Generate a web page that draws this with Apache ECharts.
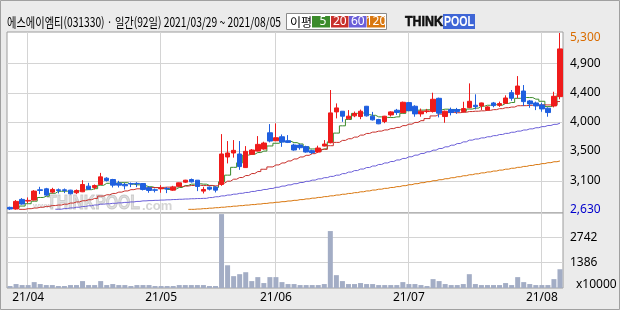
<!DOCTYPE html>
<html><head><meta charset="utf-8">
<script src="https://cdn.jsdelivr.net/npm/echarts@6/dist/echarts.min.js"></script>
<style>html,body{margin:0;padding:0;background:#ebebeb}#c{width:620px;height:310px}</style>
</head><body><div id="c"></div>
<script>
const dates = ['2021/03/29','2021/03/30','2021/03/31',
'2021/04/01','2021/04/02','2021/04/05','2021/04/06','2021/04/07','2021/04/08','2021/04/09','2021/04/12','2021/04/13','2021/04/14','2021/04/15','2021/04/16','2021/04/19','2021/04/20','2021/04/21','2021/04/22','2021/04/23','2021/04/26','2021/04/27','2021/04/28','2021/04/29','2021/04/30',
'2021/05/03','2021/05/04','2021/05/06','2021/05/07','2021/05/10','2021/05/11','2021/05/12','2021/05/13','2021/05/14','2021/05/17','2021/05/18','2021/05/20','2021/05/21','2021/05/24','2021/05/25','2021/05/26','2021/05/27','2021/05/28','2021/05/31',
'2021/06/01','2021/06/02','2021/06/03','2021/06/04','2021/06/07','2021/06/08','2021/06/09','2021/06/10','2021/06/11','2021/06/14','2021/06/15','2021/06/16','2021/06/17','2021/06/18','2021/06/21','2021/06/22','2021/06/23','2021/06/24','2021/06/25','2021/06/28','2021/06/29','2021/06/30',
'2021/07/01','2021/07/02','2021/07/05','2021/07/06','2021/07/07','2021/07/08','2021/07/09','2021/07/12','2021/07/13','2021/07/14','2021/07/15','2021/07/16','2021/07/19','2021/07/20','2021/07/21','2021/07/22','2021/07/23','2021/07/26','2021/07/27','2021/07/28','2021/07/29','2021/07/30',
'2021/08/02','2021/08/03','2021/08/04','2021/08/05'];

const opens = [2670,2645,2790,2765,2780,2935,2950,2900,2935,2935,2930,2890,2905,2990,2970,3015,3110,3090,3035,3015,
3030,3032,3030,2965,2935,2950,2955,2930,2990,3050,3090,3080,2915,2975,2975,3015,3430,3490,3475,3270,
3470,3520,3550,3795,3675,3735,3675,3610,3610,3585,3525,3505,3595,3645,4110,4120,4005,4050,4040,4195,
4045,3995,3965,4065,4135,4100,4250,4195,4080,4115,4115,4315,4040,4145,4145,4115,4175,4210,4200,4140,
4245,4210,4240,4400,4375,4425,4275,4245,4215,4165,4200,4340];
const closes = [2645,2760,2720,2775,2915,2925,2855,2940,2925,2925,2875,2925,3015,2945,3000,3130,3075,3005,3005,2995,
3022,3025,2940,2925,2928,2958,2948,2975,3040,3080,3055,2985,2940,2945,2930,3475,3490,3530,3285,3515,
3535,3620,3640,3670,3720,3655,3650,3535,3570,3505,3495,3565,3625,4095,4170,4045,4045,4085,4120,4050,
3990,3930,4045,4110,4100,4255,4130,4080,4120,4125,4300,4090,4120,4100,4115,4160,4270,4190,4245,4185,
4205,4235,4320,4315,4500,4265,4230,4200,4155,4100,4345,5060];
const lows = [2630,2635,2710,2733,2775,2870,2843,2880,2880,2885,2865,2870,2900,2935,2940,3010,3060,2970,2970,2940,
2975,2975,2925,2890,2895,2890,2885,2920,2985,3040,3045,2915,2880,2925,2895,2995,3333,3420,3236,3266,
3465,3515,3540,3650,3670,3583,3640,3525,3540,3495,3475,3495,3590,3635,4012,3960,4000,4030,4000,4040,
3980,3925,3940,4040,4065,4090,4120,4037,4037,4090,4100,4027,3946,4057,4080,4100,4165,4148,4137,4130,
4180,4185,4235,4278,4314,4198,4172,4137,4112,4037,4178,4300];
const highs = [2680,2780,2810,2820,2930,2980,2964,2965,2955,2955,2935,2940,3080,3040,3015,3190,3125,3100,3070,3040,
3045,3050,3035,2985,2955,3005,2975,2995,3045,3085,3105,3080,2980,2985,2990,3775,3670,3685,3670,3594,
3550,3745,3660,3926,3937,3770,3760,3630,3625,3600,3540,3600,3685,4440,4238,4122,4137,4115,4145,4200,
4110,4005,4050,4120,4155,4265,4260,4210,4160,4155,4399,4325,4130,4175,4170,4263,4540,4375,4250,4195,
4260,4265,4360,4440,4650,4515,4290,4265,4248,4180,4414,5300];
// volume, unit x10000 shares
const volumes = [107,214,160,160,320,214,160,160,107,107,160,160,375,160,160,375,160,214,160,160,
107,160,160,160,107,107,107,107,160,160,160,160,160,107,107,4010,1233,643,750,857,
375,590,268,590,590,320,214,214,160,160,160,160,214,3090,697,375,214,214,268,214,
214,160,160,160,160,320,214,214,160,107,482,375,214,160,160,214,750,214,160,160,
160,160,268,160,590,320,214,160,160,160,482,1018];

const ma5 = [null,2655,2690,2725,2763,2819,2838,2882,2912,2914,2904,2918,2933,2937,2952,3003,3033,3031,3043,3042,
3020,3010,2997,2981,2968,2955,2940,2947,2970,3000,3020,3027,3020,3001,2971,3055,3156,3274,3342,3459,
3471,3497,3519,3596,3637,3661,3667,3646,3626,3583,3551,3534,3552,3657,3790,3900,3996,4088,4093,4069,
4058,4035,4027,4025,4035,4088,4128,4135,4137,4142,4151,4143,4151,4147,4145,4117,4153,4167,4196,4210,
4219,4212,4238,4252,4315,4327,4326,4302,4270,4190,4206,4372];
const ma20 = [null,null,2640,2650,2660,2672,2685,2697,2705,2718,2735,2752,2770,2785,2805,2840,2860,2880,2900,2918,
2937,2950,2961,2968,2969,2971,2975,2977,2983,2991,3000,3003,2999,2999,2995,3035,3065,3095,3120,3150,
3180,3210,3245,3280,3310,3340,3370,3400,3430,3455,3480,3510,3545,3600,3650,3680,3705,3730,3760,3785,
3805,3820,3838,3858,3876,3903,3925,3951,3978,4009,4049,4076,4100,4101,4098,4104,4115,4120,4126,4133,
4144,4159,4173,4183,4203,4204,4209,4215,4216,4215,4217,4266];
const ma60 = [null,null,null,null,null,null,null,null,2642,2652,2662,2672,2683,2694,2706,2718,2724,2731,2738,2745,
2752,2760,2768,2772,2776,2780,2784,2788,2792,2796,2800,2803,2806,2818,2830,2843,2856,2869,2882,2895,
2910,2925,2940,2955,2973,2991,3009,3027,3045,3063,3081,3100,3118,3137,3156,3179,3202,3225,3248,3271,
3294,3317,3340,3362,3385,3408,3433,3458,3483,3508,3533,3558,3583,3608,3633,3658,3684,3701,3718,3735,
3752,3769,3786,3803,3820,3837,3854,3871,3888,3905,3922,3940];
const ma120 = [null,null,null,null,null,null,null,null,null,null,null,null,null,null,null,null,null,null,null,null,
null,null,null,null,null,null,null,null,null,null,2640,2645,2651,2658,2665,2672,2680,2688,2696,2704,
2712,2720,2729,2738,2747,2756,2766,2776,2787,2798,2809,2820,2832,2844,2856,2868,2880,2892,2905,2918,
2931,2944,2957,2970,2983,2997,3012,3027,3042,3057,3072,3087,3102,3117,3132,3147,3162,3176,3190,3204,
3218,3232,3246,3260,3274,3288,3302,3316,3330,3344,3358,3370];

const monthStarts = ['2021/04/01','2021/05/03','2021/06/01','2021/07/01','2021/08/02'];
const monthLabels = ['21/04','21/05','21/06','21/07','21/08'];
const priceGridValues = [3073,3525,3962,4400,4843];
const priceLabelValues = [2635,3073,3525,3962,4400,4843,5229];
const priceLabelTexts = ['2,630','3,100','3,500','4,000','4,400','4,900','5,300'];
const volGridValues = [1386,2742];
const volLabelTexts = ['1386','2742'];

const titleText = '에스에이엠티(031330) · 일간(92일) 2021/03/29 ~ 2021/08/05';
const maNames = ['5','20','60','120'];
const maColors = ['#3b8b2b','#c8302b','#6b5fd8','#d9770f'];

const UP = '#ef1b1b', DOWN = '#1f5fdf';
const GRID = '#d4d4d4';

function fitScale(text, font, target){
  const ctx = document.createElement('canvas').getContext('2d');
  ctx.font = font;
  return target / ctx.measureText(text).width;
}

const candleData = dates.map((d,i)=>[opens[i],closes[i],lows[i],highs[i]]);
const chart = echarts.init(document.getElementById('c'), null, {renderer:'canvas', width:620, height:310});

const titleFont = '13px "Noto Sans CJK KR"';
const logoFont = 'bold 15px "Liberation Sans"';
const wmFont = 'bold 21px "Liberation Sans"';

const legendChildren = [
  {type:'rect', shape:{x:286.5,y:13.5,width:100,height:16}, style:{fill:'#fff', stroke:'#8a8a8a', lineWidth:1}},
  {type:'text', x:290, y:22, style:{text:'이평', font:'12px "Noto Sans CJK KR"', fill:'#000', verticalAlign:'middle'}}
];
const boxX = [312,331,349,367], boxW = [18,17.5,17.5,18];
maNames.forEach((n,k)=>{
  legendChildren.push({type:'rect', shape:{x:boxX[k], y:16, width:boxW[k], height:11.5}, style:{fill:maColors[k]}});
  legendChildren.push({type:'text', x:boxX[k]+boxW[k]/2 + (k===0?2:0), y:22, style:{text:n, font:'12px "Noto Sans"', fill:'#fff', align:'center', verticalAlign:'middle'}});
});

// gridline renderers (custom series, drawn through the axes' scales)
function hLine(params, api){
  const cs = params.coordSys;
  const y = Math.round(api.coord([0, api.value(1)])[1]) + 0.5;
  return {type:'line', shape:{x1:cs.x, y1:y, x2:cs.x+cs.width, y2:y}, style:{stroke:GRID, lineWidth:1}};
}
function vLine(params, api){
  const cs = params.coordSys;
  const x = Math.round(api.coord([api.value(0), 0])[0]) - 0.5;
  return {type:'line', shape:{x1:x, y1:cs.y, x2:x, y2:cs.y+cs.height}, style:{stroke:GRID, lineWidth:1}};
}

const option = {
  backgroundColor:'#ebebeb',
  animation:false,
  grid:[
    {left:7, width:556, top:32, height:181, show:true, backgroundColor:'#fff', borderColor:'#9c9c9c', borderWidth:1},
    {left:7, width:556, top:213, height:75, show:true, backgroundColor:'#fff', borderColor:'#9c9c9c', borderWidth:1}
  ],
  xAxis:[
    {type:'category', gridIndex:0, data:dates, boundaryGap:true, axisLine:{show:false}, axisTick:{show:false}, axisLabel:{show:false}, splitLine:{show:false}},
    {type:'category', gridIndex:1, data:dates, boundaryGap:true, axisLine:{show:false}, axisTick:{show:false}, splitLine:{show:false},
      axisLabel:{interval:(i,v)=>monthStarts.includes(v), formatter:v=>{const k=monthStarts.indexOf(v); return k>=0?monthLabels[k]:'';}, color:'#000', fontSize:12, fontFamily:'Noto Sans', margin:4}}
  ],
  yAxis:[
    {type:'value', gridIndex:0, position:'right', min:2585, max:5315, splitLine:{show:false}, axisLine:{show:false}, axisTick:{show:false},
      axisLabel:{customValues:priceLabelValues, margin:7, fontSize:12, fontFamily:'Noto Sans',
        formatter:v=>{const k=priceLabelValues.indexOf(v); return k>=0?priceLabelTexts[k]:'';},
        color:(v)=>{const k=priceLabelValues.indexOf(Number(v)); return k===0?'#0000cc':(k===priceLabelValues.length-1?'#d96c00':'#000');}}},
    {type:'value', gridIndex:1, position:'right', min:0, max:4070, splitLine:{show:false}, axisLine:{show:false}, axisTick:{show:false},
      axisLabel:{customValues:volGridValues, margin:7, fontSize:12, fontFamily:'Noto Sans', color:'#000',
        formatter:v=>{const k=volGridValues.indexOf(v); return k>=0?volLabelTexts[k]:'';}}}
  ],
  graphic:[
    {type:'rect', z:-10, silent:true, shape:{x:0.5,y:0.5,width:619,height:309}, style:{fill:'none', stroke:'#a0a0a0', lineWidth:1}},
    {type:'text', x:7, y:22, scaleX:fitScale(titleText,titleFont,274), style:{text:titleText, font:titleFont, fill:'#000', verticalAlign:'middle'}},
    {type:'group', children:legendChildren},
    {type:'text', x:405, y:22, scaleX:fitScale('THINK',logoFont,38), style:{text:'THINK', font:logoFont, fill:'#111', stroke:'#111', lineWidth:0.6, verticalAlign:'middle'}},
    {type:'rect', shape:{x:443,y:14,width:32,height:15}, style:{fill:'#3f66d6'}},
    {type:'text', x:459, y:22, scaleX:fitScale('POOL',logoFont,30), style:{text:'POOL', font:logoFont, fill:'#fff', align:'center', verticalAlign:'middle'}},
    {type:'text', x:33, y:206, style:{text:'www.', font:'bold 8px "Liberation Sans"', fill:'rgba(160,160,160,0.45)', verticalAlign:'middle'}},
    {type:'text', x:47, y:203, scaleX:fitScale('THINKPOOL',wmFont,93), style:{text:'THINKPOOL', font:wmFont, fill:'rgba(190,190,190,0.5)', stroke:'rgba(150,150,150,0.45)', lineWidth:1, verticalAlign:'middle'}},
    {type:'text', x:142, y:206, style:{text:'.com', font:'bold 13px "Liberation Sans"', fill:'rgba(170,170,170,0.5)', verticalAlign:'middle'}},
    {type:'text', x:576, y:285, style:{text:'x10000', font:'12px "Noto Sans"', fill:'#000', verticalAlign:'middle'}}
  ],
  series:[
    {type:'custom', xAxisIndex:0, yAxisIndex:0, silent:true, z:2, data:priceGridValues.map(v=>[0,v]), renderItem:hLine},
    {type:'custom', xAxisIndex:0, yAxisIndex:0, silent:true, z:2, data:monthStarts.map(d=>[d,3000]), renderItem:vLine},
    {type:'custom', xAxisIndex:1, yAxisIndex:1, silent:true, z:2, data:volGridValues.map(v=>[0,v]), renderItem:hLine},
    {type:'custom', xAxisIndex:1, yAxisIndex:1, silent:true, z:2, data:monthStarts.map(d=>[d,0]), renderItem:vLine},
    {type:'line', name:'MA5', xAxisIndex:0, yAxisIndex:0, data:ma5, step:'middle', showSymbol:false, silent:true, lineStyle:{color:maColors[0], width:1}, z:3},
    {type:'line', name:'MA20', xAxisIndex:0, yAxisIndex:0, data:ma20, step:'middle', showSymbol:false, silent:true, lineStyle:{color:maColors[1], width:1}, z:3},
    {type:'line', name:'MA60', xAxisIndex:0, yAxisIndex:0, data:ma60, step:'middle', showSymbol:false, silent:true, lineStyle:{color:maColors[2], width:1}, z:3},
    {type:'line', name:'MA120', xAxisIndex:0, yAxisIndex:0, data:ma120, step:'middle', showSymbol:false, silent:true, lineStyle:{color:maColors[3], width:1}, z:3},
    {type:'candlestick', xAxisIndex:0, yAxisIndex:0, data:candleData, barWidth:5, silent:true, z:4,
      itemStyle:{color:UP, color0:DOWN, borderColor:UP, borderColor0:DOWN, borderWidth:1}},
    {type:'bar', xAxisIndex:1, yAxisIndex:1, data:volumes, barWidth:5, silent:true, z:4,
      itemStyle:{color:'#a3adc5'}}
  ]
};
chart.setOption(option);
</script></body></html>
